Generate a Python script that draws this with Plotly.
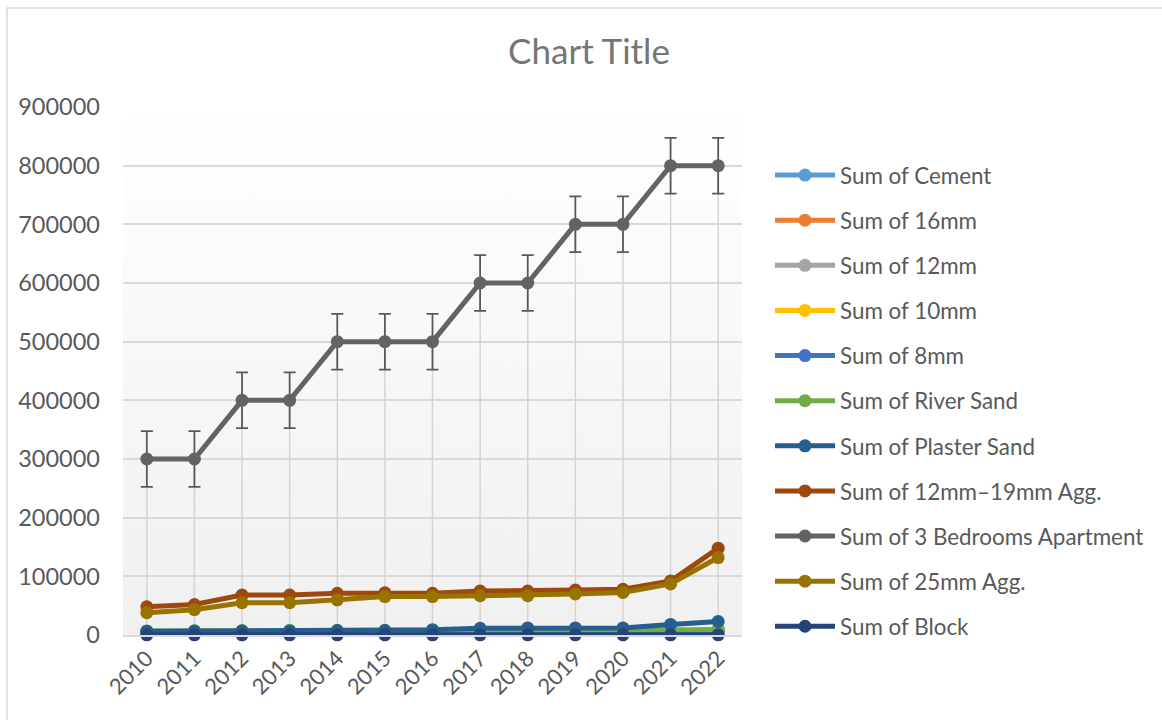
import base64
import plotly.graph_objects as go

years = [2010, 2011, 2012, 2013, 2014, 2015, 2016, 2017, 2018, 2019, 2020, 2021, 2022]

cement = [3000, 3200, 3300, 3500, 3600, 3800, 4000, 4200, 4400, 4500, 4700, 7000, 9000]
mm16 = [2500, 2600, 2800, 3000, 3100, 3200, 3300, 3500, 3600, 3700, 3800, 6500, 9500]
mm12 = [2400, 2500, 2700, 2900, 3000, 3100, 3200, 3400, 3500, 3600, 3700, 6000, 8000]
mm10 = [2300, 2400, 2600, 2800, 2900, 3000, 3100, 3300, 3400, 3500, 3600, 5500, 7000]
mm8 = [2200, 2300, 2500, 2700, 2800, 2900, 3000, 3200, 3300, 3400, 3500, 5000, 6500]
river_sand = [7000, 7200, 7500, 8000, 8000, 8000, 8000, 8000, 8500, 8500, 8500, 9000, 9000]
plaster_sand = [6500, 6800, 7000, 7000, 7500, 7500, 9000, 11500, 12000, 12000, 12000, 18000, 23000]
agg_12_19 = [48000, 52000, 68000, 68000, 71000, 72000, 71000, 75000, 75000, 76500, 78000, 92000, 148000]
apartment = [300000, 300000, 400000, 400000, 500000, 500000, 500000, 600000, 600000, 700000, 700000, 800000, 800000]
agg_25 = [38000, 43000, 55000, 55000, 60000, 65500, 65500, 67000, 67000, 70000, 72500, 87000, 132000]
block = [300, 300, 300, 300, 300, 300, 300, 300, 300, 300, 300, 300, 300]

apartment_err = [47500] * 13

series_names = [
    "Sum of Cement", "Sum of 16mm", "Sum of 12mm", "Sum of 10mm", "Sum of 8mm",
    "Sum of River Sand", "Sum of Plaster Sand", "Sum of 12mm\u201319mm Agg.",
    "Sum of 3 Bedrooms Apartment", "Sum of 25mm Agg.", "Sum of Block",
]
series_values = [cement, mm16, mm12, mm10, mm8, river_sand, plaster_sand,
                 agg_12_19, apartment, agg_25, block]
series_colors = ["#5B9BD5", "#ED7D31", "#A5A5A5", "#FFC000", "#4472C4", "#70AD47",
                 "#255E91", "#9E480E", "#636363", "#997300", "#264478"]

y_ticks = [0, 100000, 200000, 300000, 400000, 500000, 600000, 700000, 800000, 900000]

FONT = "Lato"
TEXT = "#595959"

fig = go.Figure()

# drop lines from apartment series down to axis
dx, dy = [], []
for x, v in zip(years, apartment):
    dx += [x, x, None]
    dy += [0, v, None]
fig.add_trace(go.Scatter(x=dx, y=dy, mode="lines", showlegend=False, hoverinfo="skip",
                         line=dict(color="#d4d4d4", width=1.5)))

for i, (name, vals, col) in enumerate(zip(series_names, series_values, series_colors)):
    kw = {}
    if name == "Sum of 3 Bedrooms Apartment":
        kw["error_y"] = dict(type="data", array=apartment_err, visible=True,
                             color="#595959", thickness=1.8, width=6)
    fig.add_trace(go.Scatter(
        x=years, y=vals, name=name, mode="lines+markers",
        line=dict(color=col, width=5),
        marker=dict(color=col, size=13),
        legendgroup=f"g{i}",
        cliponaxis=False,
        **kw,
    ))

# vertical gradient background for plot area
svg = ('<svg xmlns="http://www.w3.org/2000/svg" width="100" height="100" preserveAspectRatio="none">'
       '<defs><linearGradient id="g" x1="0" y1="0" x2="0" y2="1">'
       '<stop offset="0" stop-color="#ffffff"/><stop offset="1" stop-color="#f0f0f0"/>'
       '</linearGradient></defs><rect width="100" height="100" fill="url(#g)"/></svg>')
src = "data:image/svg+xml;base64," + base64.b64encode(svg.encode()).decode()

W, H = 1162, 720
L, R, T, B = 123, 742, 107, 635

fig.update_layout(
    width=W, height=H,
    margin=dict(l=L, r=W - R, t=T, b=H - B, pad=0),
    paper_bgcolor="white",
    plot_bgcolor="rgba(0,0,0,0)",
    font=dict(family=FONT, color=TEXT, size=22),
    title=dict(text="Chart Title", x=589 / W, xref="container", xanchor="center",
               y=1 - 52 / H, yref="container", yanchor="middle",
               font=dict(family=FONT, size=35, color="#757575")),
    xaxis=dict(range=[2009.5, 2022.5], tickmode="array", tickvals=years,
               ticktext=[str(y) for y in years], tickangle=-45, showgrid=False,
               showline=True, linecolor="#d9d9d9", linewidth=1.5, zeroline=False,
               ticks="", tickfont=dict(size=22, color=TEXT)),
    yaxis=dict(range=[0, 900000], tickmode="array", tickvals=y_ticks,
               ticktext=[str(v) for v in y_ticks], showgrid=True, gridcolor="#d9d9d9",
               gridwidth=1.5, zeroline=False, showline=False, ticks="",
               ticklabelstandoff=22, tickfont=dict(size=23.5, color=TEXT)),
    legend=dict(x=(770 - L) / (R - L), xanchor="left", y=(B - 154) / (B - T), yanchor="top",
                font=dict(size=22.4, color=TEXT, family=FONT), traceorder="grouped",
                tracegroupgap=13, itemwidth=60, bgcolor="rgba(0,0,0,0)"),
    images=[dict(source=src, xref="paper", yref="paper", x=0, y=1, sizex=1, sizey=1,
                 sizing="stretch", xanchor="left", yanchor="top", layer="below")],
    shapes=[dict(type="rect", xref="paper", yref="paper",
                 x0=(7 - L) / (R - L), x1=(W + 10 - L) / (R - L),
                 y0=(B - (H + 10)) / (B - T), y1=(B - 8) / (B - T),
                 line=dict(color="#d9d9d9", width=1.5), fillcolor="rgba(0,0,0,0)",
                 layer="below")],
    showlegend=True,
)

fig.write_html("out.html", config={"displayModeBar": False},
               post_script="document.body.style.margin='0';")
